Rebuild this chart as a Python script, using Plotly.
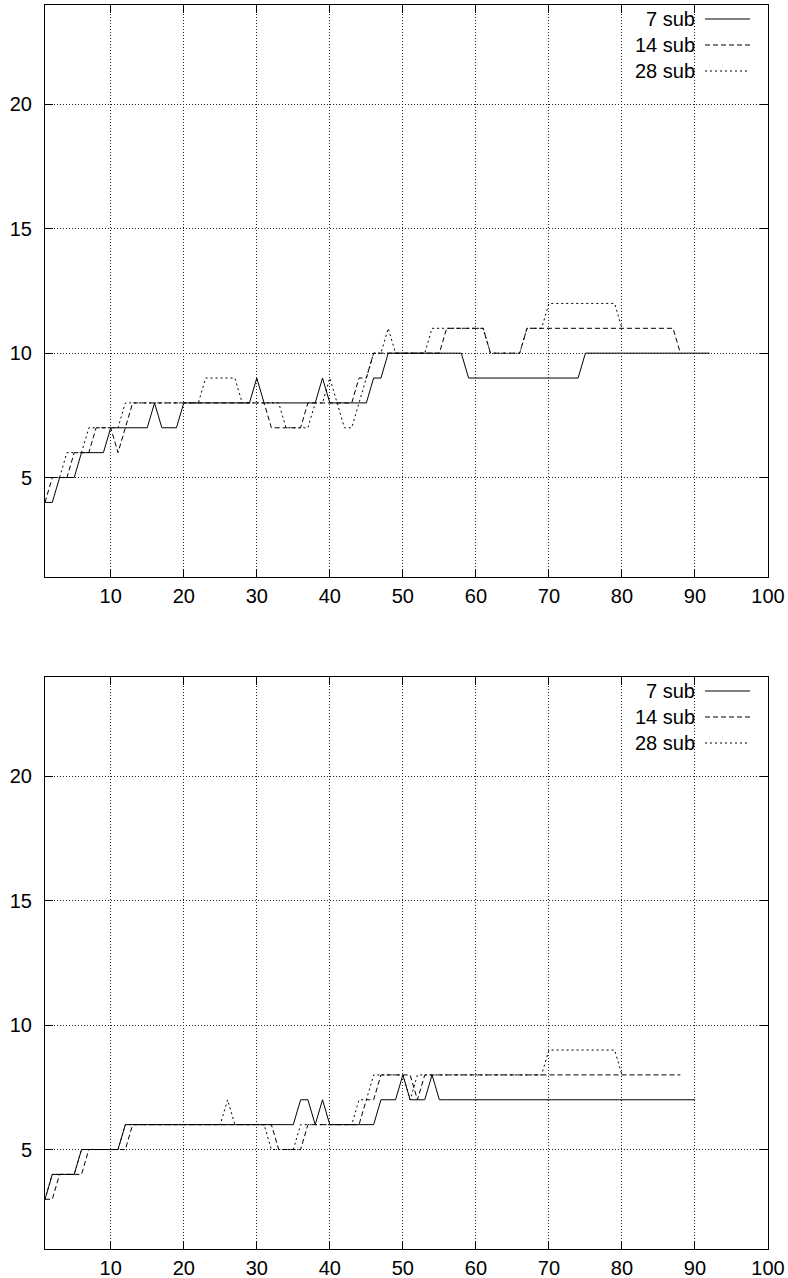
import plotly.graph_objects as go
from plotly.subplots import make_subplots

series_names = ["7 sub", "14 sub", "28 sub"]
dash_styles = ["solid", "5px,3px", "2px,3px"]

top_7 = [4,4,5,5,5,6,6,6,6,7, 7,7,7,7,7,8,7,7,7,8, 8,8,8,8,8,8,8,8,8,9,
         8,8,8,8,8,8,8,8,9,8, 8,8,8,8,8,9,9,10,10,10, 10,10,10,10,10,10,10,10,9,9,
         9,9,9,9,9,9,9,9,9,9, 9,9,9,9,10,10,10,10,10,10, 10,10,10,10,10,10,10,10,10,10,
         10,10]
top_14 = [4,5,5,5,6,6,6,7,7,7, 6,7,8,8,8,8,8,8,8,8, 8,8,8,8,8,8,8,8,8,8,
          8,7,7,7,7,7,8,8,8,8, 8,8,8,9,9,10,10,10,10,10, 10,10,10,10,10,11,11,11,11,11,
          11,10,10,10,10,10,11,11,11,11, 11,11,11,11,11,11,11,11,11,11, 11,11,11,11,11,11,11,10]
top_28 = [5,5,5,6,6,6,7,7,7,7, 7,8,8,8,8,8,8,8,8,8, 8,8,9,9,9,9,9,8,8,8,
          8,8,8,7,7,7,7,8,8,9, 8,7,7,8,9,10,10,11,10,10, 10,10,10,11,11,11,11,11,11,11,
          11,10,10,10,10,10,11,11,11,12, 12,12,12,12,12,12,12,12,12,11]

bot_7 = [3,4,4,4,4,5,5,5,5,5, 5,6,6,6,6,6,6,6,6,6, 6,6,6,6,6,6,6,6,6,6,
         6,6,6,6,6,7,7,6,7,6, 6,6,6,6,6,6,7,7,7,8, 7,7,7,8,7,7,7,7,7,7,
         7,7,7,7,7,7,7,7,7,7, 7,7,7,7,7,7,7,7,7,7, 7,7,7,7,7,7,7,7,7,7]
bot_14 = [3,3,4,4,4,4,5,5,5,5, 5,5,6,6,6,6,6,6,6,6, 6,6,6,6,6,6,6,6,6,6,
          6,6,5,5,5,5,6,6,6,6, 6,6,6,6,7,7,8,8,8,8, 8,7,8,8,8,8,8,8,8,8,
          8,8,8,8,8,8,8,8,8,8, 8,8,8,8,8,8,8,8,8,8, 8,8,8,8,8,8,8,8]
bot_28 = [3,4,4,4,4,5,5,5,5,5, 5,6,6,6,6,6,6,6,6,6, 6,6,6,6,6,7,6,6,6,6,
          6,5,5,5,5,6,6,6,6,6, 6,6,6,7,7,8,8,8,8,8, 7,8,8,8,8,8,8,8,8,8,
          8,8,8,8,8,8,8,8,8,9, 9,9,9,9,9,9,9,9,9,8]

x_ticks = [10, 20, 30, 40, 50, 60, 70, 80, 90, 100]
y_ticks = [5, 10, 15, 20]

panels = [[top_7, top_14, top_28], [bot_7, bot_14, bot_28]]

fig = make_subplots(rows=2, cols=1, vertical_spacing=100 / 1244)

for r, data in enumerate(panels, start=1):
    for name, vals, dash in zip(series_names, data, dash_styles):
        fig.add_trace(go.Scatter(
            x=list(range(1, len(vals) + 1)), y=vals, mode="lines", name=name,
            line=dict(color="black", width=1, dash=dash), showlegend=False,
        ), row=r, col=1)

font = dict(family="Liberation Sans, Arial, sans-serif", size=20, color="black")
axis_common = dict(
    showline=True, linecolor="black", linewidth=1, mirror="ticks",
    ticks="inside", ticklen=8, tickcolor="black", tickwidth=1,
    showgrid=True, gridcolor="#222", griddash="1px,2px", gridwidth=1,
    zeroline=False, tickfont=font, automargin=False,
)
for r in (1, 2):
    fig.update_xaxes(range=[1, 100], tickvals=x_ticks, ticklabelstandoff=1, **axis_common, row=r, col=1)
    fig.update_yaxes(range=[1, 24], tickvals=y_ticks, ticklabelstandoff=8, **axis_common, row=r, col=1)

# legend drawn as text + sample (text on the left, sample on the right)
row_offsets = [0, 26, 52]
for r, (xa, ya) in enumerate([("x", "y"), ("x2", "y2")]):
    for i, (name, dash) in enumerate(zip(series_names, dash_styles)):
        yfrac = 1 - (14 + row_offsets[i]) / 572
        fig.add_annotation(xref=f"{xa} domain", yref=f"{ya} domain", x=(697 - 45) / 723, y=yfrac,
                           text=name, showarrow=False, xanchor="right", yanchor="middle", font=font)
        fig.add_shape(type="line", xref=f"{xa} domain", yref=f"{ya} domain",
                      x0=(705 - 45) / 723, x1=(750 - 45) / 723, y0=yfrac, y1=yfrac,
                      line=dict(color="black", width=1, dash=dash))

fig.update_layout(
    width=788, height=1278, margin=dict(l=45, r=20, t=5, b=29, autoexpand=False),
    paper_bgcolor="white", plot_bgcolor="white", font=font,
)
fig.write_html("out.html", config={"displayModeBar": False},
               post_script="document.body.style.margin='0px';document.body.style.overflow='hidden';")
